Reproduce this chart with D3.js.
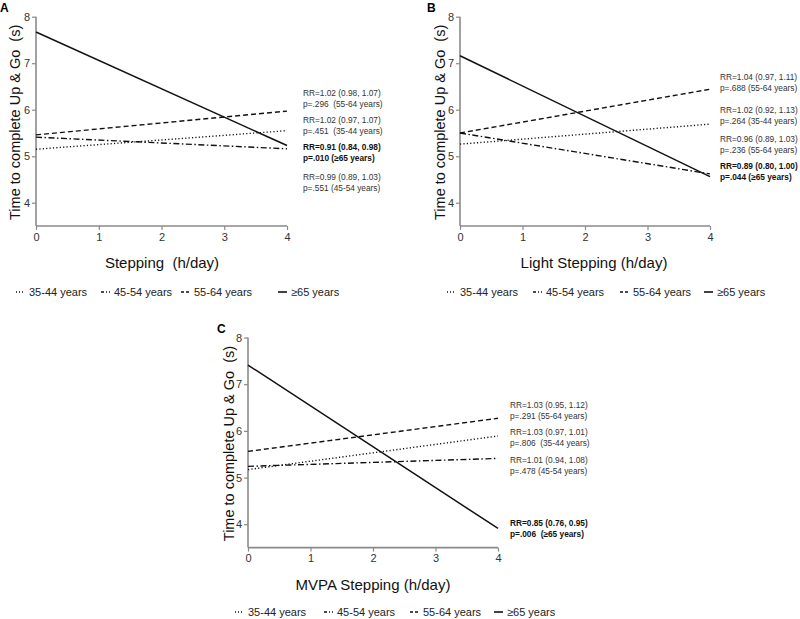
<!DOCTYPE html>
<html><head><meta charset="utf-8">
<script src="https://cdn.jsdelivr.net/npm/d3@7"></script>
<style>body{margin:0;background:#fff}svg{display:block}text{white-space:pre}</style>
</head><body>
<script>
const groups = ["35-44 years","45-54 years","55-64 years","\u226565 years"];
const xTicks = [0,1,2,3,4];
const yTicks = [4,5,6,7,8];
// predicted values at 0 h/day and 4 h/day per group (35-44, 45-54, 55-64, >=65)
const stepStart = [5.15, 5.41, 5.46, 7.67];
const stepEnd   = [5.55, 5.16, 5.97, 5.23];
const lightStart = [5.26, 5.50, 5.50, 7.16];
const lightEnd   = [5.69, 4.62, 6.44, 4.56];
const mvpaStart = [5.17, 5.24, 5.56, 7.41];
const mvpaEnd   = [5.89, 5.41, 6.27, 3.91];
const annotA = [
  {l1:"RR=1.02 (0.98, 1.07)", l2:"p=.296  (55-64 years)", bold:false},
  {l1:"RR=1.02 (0.97, 1.07)", l2:"p=.451  (35-44 years)", bold:false},
  {l1:"RR=0.91 (0.84, 0.98)", l2:"p=.010 (\u226565 years)", bold:true},
  {l1:"RR=0.99 (0.89, 1.03)", l2:"p=.551 (45-54 years)", bold:false}];
const annotB = [
  {l1:"RR=1.04 (0.97, 1.11)", l2:"p=.688 (55-64 years)", bold:false},
  {l1:"RR=1.02 (0.92, 1.13)", l2:"p=.264 (35-44 years)", bold:false},
  {l1:"RR=0.96 (0.89, 1.03)", l2:"p=.236 (55-64 years)", bold:false},
  {l1:"RR=0.89 (0.80, 1.00)", l2:"p=.044 (\u226565 years)", bold:true}];
const annotC = [
  {l1:"RR=1.03 (0.95, 1.12)", l2:"p=.291 (55-64 years)", bold:false},
  {l1:"RR=1.03 (0.97, 1.01)", l2:"p=.806  (35-44 years)", bold:false},
  {l1:"RR=1.01 (0.94, 1.08)", l2:"p=.478 (45-54 years)", bold:false},
  {l1:"RR=0.85 (0.76, 0.95)", l2:"p=.006  (\u226565 years)", bold:true}];

const dashes = ["1.2,2.2", "6,2.5,1.5,2.5", "5,3", null];
const W = 800, H = 619;
const FONT = "'Liberation Sans', Arial, sans-serif";
const svg = d3.select("body").append("svg").attr("width", W).attr("height", H)
  .style("font-family", FONT);

function panel(cfg) {
  const x = d3.scaleLinear().domain([0,4]).range([cfg.x0, cfg.x1]);
  const y = d3.scaleLinear().domain([3.5,8]).range([cfg.yb, cfg.yt]);
  const g = svg.append("g");
  const ax = g.append("g").attr("transform",`translate(0,${cfg.yb})`)
    .call(d3.axisBottom(x).tickValues(xTicks).tickSize(4).tickPadding(3).tickFormat(d3.format("d")));
  const ay = g.append("g").attr("transform",`translate(${cfg.x0},0)`)
    .call(d3.axisLeft(y).tickValues(yTicks).tickSize(4).tickPadding(2).tickFormat(d3.format("d")));
  [ax, ay].forEach(a => {
    a.select(".domain").attr("stroke","#8a8a8a").attr("stroke-width",1.6);
    a.selectAll(".tick line").attr("stroke","#8a8a8a").attr("stroke-width",1.2);
    a.selectAll(".tick text").attr("fill","#333").style("font-size","11px").style("font-family", FONT);
  });
  ay.select(".domain").attr("d", `M0,${cfg.yb}V${cfg.yt}`);
  ax.select(".domain").attr("d", `M${cfg.x0},0H${cfg.x1}`);
  groups.forEach((gr,i) => {
    g.append("line")
      .attr("x1", x(0)).attr("y1", y(cfg.start[i]))
      .attr("x2", x(4)).attr("y2", y(cfg.end[i]))
      .attr("stroke","#111").attr("stroke-width", i===3 ? 1.5 : 1.4)
      .attr("stroke-dasharray", dashes[i]);
  });
  g.append("text").attr("x", cfg.xtX).attr("y", cfg.yb + 42).attr("text-anchor","middle")
    .style("font-size","15px").attr("fill","#111").text(cfg.xtitle);
  g.append("text").attr("transform",`translate(${cfg.ytX},${(cfg.yt+cfg.yb)/2 + 1}) rotate(-90)`)
    .attr("text-anchor","middle").style("font-size","14.5px").attr("fill","#111")
    .text("Time to complete Up & Go  (s)");
  g.append("text").attr("x", cfg.lx).attr("y", cfg.ly).style("font-size","12px").style("font-weight","bold")
    .text(cfg.label);
  cfg.annot.forEach((a,i) => {
    const t = g.append("text").attr("x", cfg.ax).attr("y", cfg.ay[i])
      .style("font-size","8.3px").style("font-weight", a.bold ? "bold" : "normal")
      .attr("fill", a.bold ? "#111" : "#333");
    t.append("tspan").attr("x", cfg.ax).text(a.l1);
    t.append("tspan").attr("x", cfg.ax).attr("dy", 10.5).text(a.l2);
  });
  groups.forEach((gr,i) => {
    const lx = cfg.legX[i], ly = cfg.legY;
    g.append("line").attr("x1", lx).attr("x2", lx + 9).attr("y1", ly - 4).attr("y2", ly - 4)
      .attr("stroke","#111").attr("stroke-width", i===3 ? 1.6 : 1.3)
      .attr("stroke-dasharray", i===0 ? "1,2" : i===1 ? "3,2,1,2" : i===2 ? "3,2" : null);
    g.append("text").attr("x", lx + 13).attr("y", ly).style("font-size","11px").attr("fill","#222").text(gr);
  });
}

panel({x0:36, x1:287, yt:16.7, yb:226, start:stepStart, end:stepEnd, xtitle:"Stepping  (h/day)", xtX:162,
  ytX:20, label:"A", lx:0, ly:12, annot:annotA, ax:303, ay:[96,123,150,180], legX:[16,101,181,278], legY:296});
panel({x0:460, x1:710, yt:16.7, yb:226, start:lightStart, end:lightEnd, xtitle:"Light Stepping (h/day)", xtX:594,
  ytX:445, label:"B", lx:427, ly:12, annot:annotB, ax:720, ay:[80,113,142,169], legX:[447,533,620,704], legY:296});
panel({x0:248, x1:498, yt:337.5, yb:547.6, start:mvpaStart, end:mvpaEnd, xtitle:"MVPA Stepping (h/day)", xtX:373,
  ytX:234, label:"C", lx:217, ly:333, annot:annotC, ax:510, ay:[408,435,463,526], legX:[235,324,410,494], legY:616});
</script>
</body></html>
